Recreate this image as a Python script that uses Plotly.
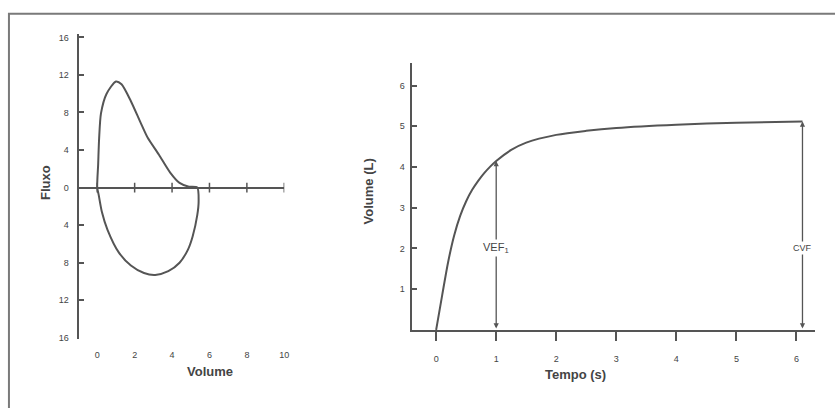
import plotly.graph_objects as go

# ---------------- data ----------------
# Flow-volume loop (left panel)
loop_volume = [0, 0.05, 0.1, 0.2, 0.5, 1.0, 1.3, 1.8, 2.3, 2.7, 3.3, 3.9, 4.4, 4.9, 5.35,
               5.42, 5.35, 5.1, 4.85, 4.4, 3.8, 3.1, 2.5, 1.8, 1.15, 0.55, 0.25, 0.08, 0]
loop_flow = [0, 2.5, 5.2, 7.9, 10.0, 11.3, 11.0, 9.2, 7.0, 5.3, 3.5, 1.6, 0.5, 0.1, 0,
             -1.5, -2.9, -5.2, -6.6, -8.0, -8.9, -9.3, -9.1, -8.3, -6.9, -4.5, -2.6, -0.8, 0]
left_x_ticks = [0, 2, 4, 6, 8, 10]
left_x_labels = ["0", "2", "4", "6", "8", "10"]
left_y_ticks = [-16, -12, -8, -4, 0, 4, 8, 12, 16]
left_y_labels = ["16", "12", "8", "4", "0", "4", "8", "12", "16"]

# Volume-time curve (right panel)
time_s = [0, 0.1, 0.2, 0.3, 0.4, 0.5, 0.6, 0.7, 0.8, 0.9, 1.0, 1.25, 1.5, 2.0, 2.5, 3.0, 4.0, 5.0, 6.1]
volume_l = [0, 0.85, 1.67, 2.32, 2.80, 3.16, 3.44, 3.66, 3.85, 4.01, 4.15, 4.42, 4.6, 4.79, 4.89,
            4.96, 5.04, 5.09, 5.12]
right_x_ticks = [0, 1, 2, 3, 4, 5, 6]
right_x_labels = ["0", "1", "2", "3", "4", "5", "6"]
right_y_ticks = [1, 2, 3, 4, 5, 6]
right_y_labels = ["1", "2", "3", "4", "5", "6"]

vef1_time, vef1_value, vef1_label = 1.0, 4.15, "VEF<sub>1</sub>"
cvf_time, cvf_value, cvf_label = 6.1, 5.12, "CVF"

# ---------------- figure ----------------
W, H = 835, 408
LINE = "#555555"
TXT = "#444444"
FONT = "Liberation Sans, Arial, sans-serif"

fig = go.Figure()

fig.add_trace(go.Scatter(x=loop_volume, y=loop_flow, mode="lines",
                         line=dict(color=LINE, width=2, shape="spline", smoothing=0.7),
                         xaxis="x", yaxis="y", hoverinfo="skip"))
# tick marks on the zero line of the left panel
fig.add_trace(go.Scatter(x=left_x_ticks, y=[0] * len(left_x_ticks), mode="markers",
                         marker=dict(symbol="line-ns", size=7, line=dict(color=LINE, width=1.5)),
                         xaxis="x", yaxis="y", hoverinfo="skip"))

fig.add_trace(go.Scatter(x=time_s, y=volume_l, mode="lines",
                         line=dict(color=LINE, width=2, shape="spline", smoothing=0.8),
                         xaxis="x2", yaxis="y2", hoverinfo="skip"))

def px_x(p):
    return p / W

def px_y(p):
    return 1 - p / H

tickfont = dict(family=FONT, size=9, color=TXT)

fig.update_layout(
    width=W, height=H, margin=dict(l=0, r=0, t=0, b=0),
    paper_bgcolor="white", plot_bgcolor="white", showlegend=False,
    xaxis=dict(domain=[px_x(79), px_x(286)], range=[-1.0, 10.0],
               tickvals=left_x_ticks, ticktext=left_x_labels,
               showline=False, zeroline=False, showgrid=False, ticks="",
               ticklabelstandoff=9, tickfont=tickfont, anchor="y"),
    yaxis=dict(domain=[px_y(342), px_y(33)], range=[-16.1, 16.4],
               tickvals=left_y_ticks, ticktext=left_y_labels,
               showline=True, linecolor=LINE, linewidth=2, showgrid=False,
               zeroline=True, zerolinecolor=LINE, zerolinewidth=2,
               ticks="inside", ticklen=5, tickwidth=1.5, tickcolor=LINE,
               ticklabelstandoff=6, tickfont=tickfont, anchor="x"),
    xaxis2=dict(domain=[px_x(414), px_x(820)], range=[-0.41, 6.31],
                tickvals=right_x_ticks, ticktext=right_x_labels,
                showline=True, linecolor=LINE, linewidth=2, showgrid=False, zeroline=False,
                ticks="outside", ticklen=9, tickwidth=1.5, tickcolor=LINE,
                ticklabelstandoff=10, tickfont=tickfont, anchor="y2"),
    yaxis2=dict(domain=[px_y(333), px_y(63)], range=[0, 6.55],
                tickvals=right_y_ticks, ticktext=right_y_labels,
                showline=True, linecolor=LINE, linewidth=2, showgrid=False, zeroline=False,
                ticks="inside", ticklen=5, tickwidth=1.5, tickcolor=LINE,
                ticklabelstandoff=3, tickfont=tickfont, anchor="x2"),
)

# frame around the figure (open on right/bottom, like the cropped scan)
fig.add_shape(type="rect", xref="paper", yref="paper",
              x0=px_x(9), x1=1.05, y0=-0.05, y1=px_y(13),
              line=dict(color="#7a7a7a", width=2), layer="below")

# VEF1 and CVF double arrows
for t, v in [(vef1_time, vef1_value), (cvf_time, cvf_value)]:
    fig.add_annotation(x=t, y=v, ax=t, ay=0, xref="x2", yref="y2", axref="x2", ayref="y2",
                       text="", showarrow=True, arrowhead=2, startarrowhead=2,
                       arrowside="end+start", arrowsize=0.8, startarrowsize=0.8,
                       arrowwidth=1.3, arrowcolor=LINE)

fig.add_annotation(x=vef1_time, y=2.0, xref="x2", yref="y2", text=vef1_label,
                   showarrow=False, bgcolor="white", borderpad=1,
                   font=dict(family=FONT, size=11, color=TXT))
fig.add_annotation(x=cvf_time, y=2.0, xref="x2", yref="y2", text=cvf_label,
                   showarrow=False, bgcolor="white", borderpad=1,
                   font=dict(family=FONT, size=9, color=TXT))

# axis titles
title_font = dict(family=FONT, size=13, color=TXT)
fig.add_annotation(x=px_x(36), y=px_y(184), xref="paper", yref="paper", text="<b>Fluxo</b>",
                   textangle=-90, showarrow=False, font=title_font)
fig.add_annotation(x=px_x(186), y=px_y(385), xref="paper", yref="paper", text="<b>Volume</b>",
                   showarrow=False, font=title_font)
fig.add_annotation(x=px_x(371), y=px_y(193), xref="paper", yref="paper", text="<b>Volume (L)</b>",
                   textangle=-90, showarrow=False, font=title_font)
fig.add_annotation(x=px_x(612), y=px_y(388), xref="paper", yref="paper", text="<b>Tempo (s)</b>",
                   showarrow=False, font=title_font)

fig.write_html("out.html")
